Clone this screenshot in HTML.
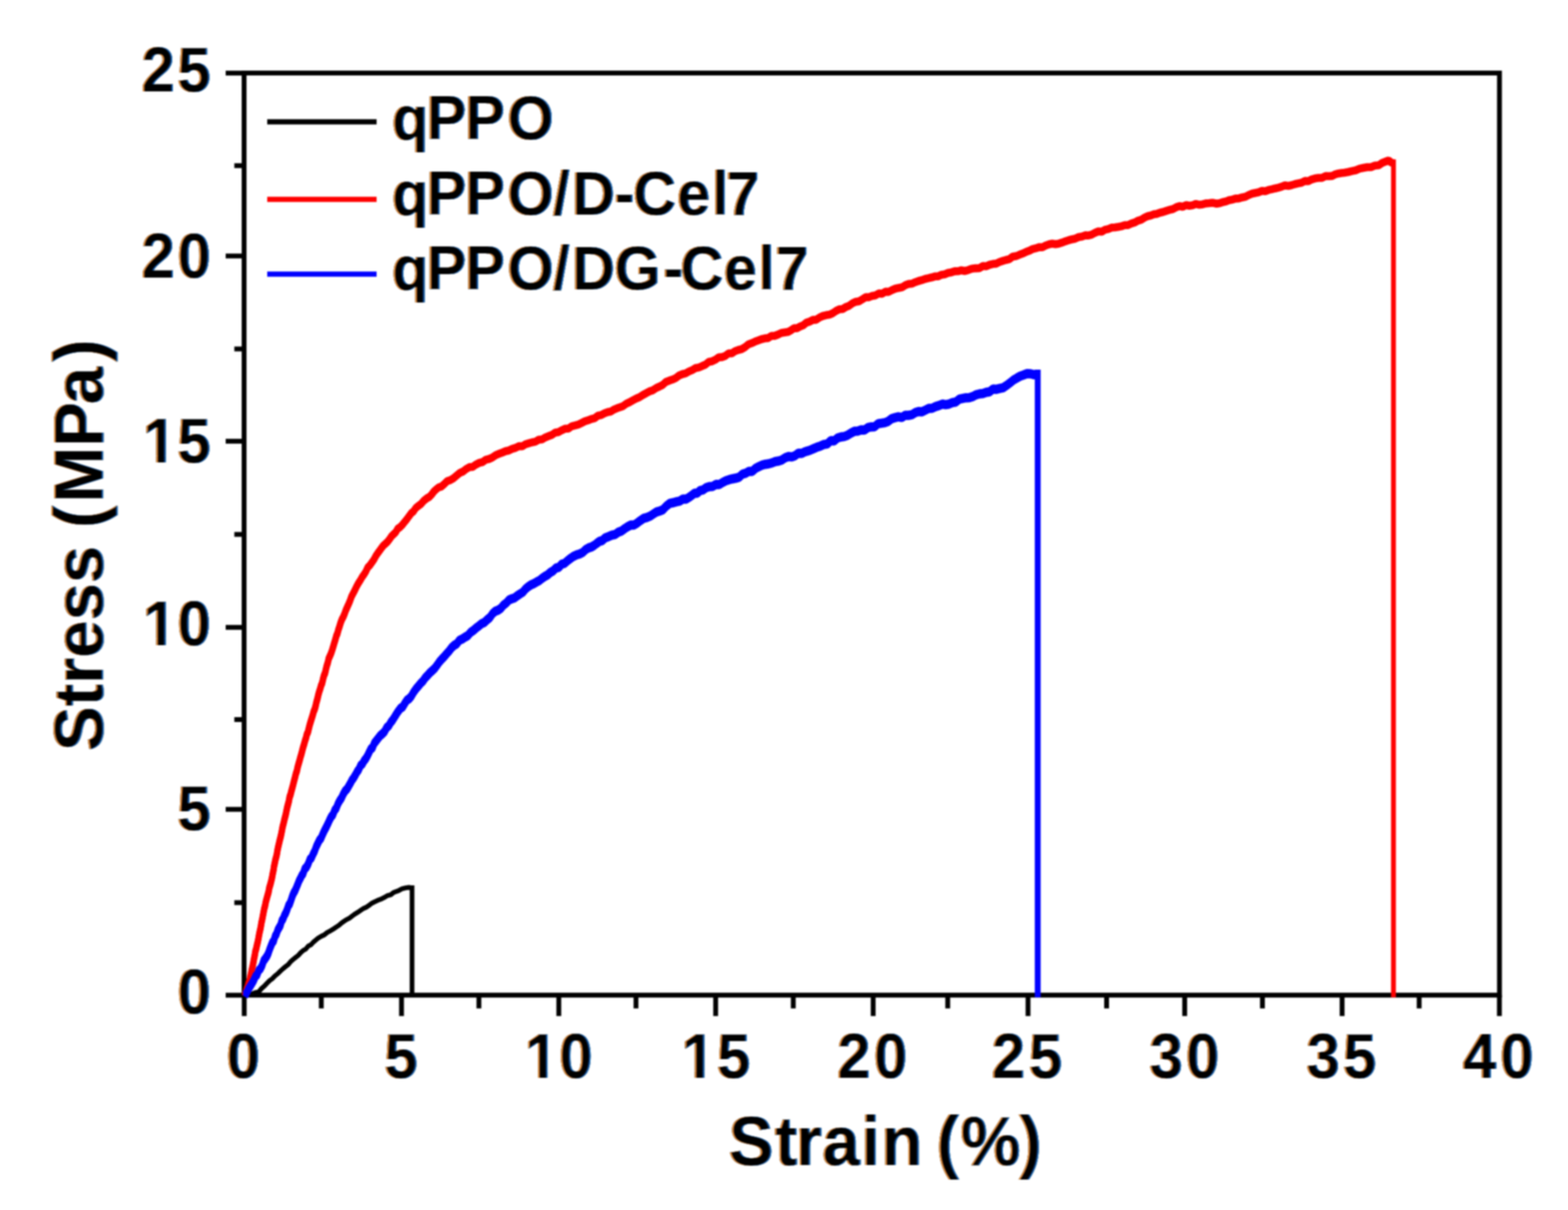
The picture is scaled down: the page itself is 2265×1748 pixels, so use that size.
<!DOCTYPE html>
<html lang="en">
<head>
<meta charset="utf-8">
<title>Stress-strain curves</title>
<style>
html,body{margin:0;padding:0;background:#fff;}
body{width:2265px;height:1748px;overflow:hidden;}
svg{display:block;position:absolute;left:0;top:0;filter:blur(1.2px);}
text{font-family:"Liberation Sans",Arial,Helvetica,sans-serif;font-weight:bold;fill:#000;}
.tick{font-size:86.5px;}
.title{font-size:97px;}
.leg{font-size:86px;}
.ax{stroke:#000;fill:none;}
.crv{fill:none;stroke-linejoin:miter;stroke-linecap:butt;}
</style>
</head>
<body>
<svg width="2265" height="1748" viewBox="0 0 2265 1748">
<rect x="0" y="0" width="2265" height="1748" fill="#ffffff"/>
<defs>
<filter id="ct" filterUnits="userSpaceOnUse" x="0" y="0" width="2265" height="1748" color-interpolation-filters="sRGB">
<feMorphology in="SourceAlpha" operator="dilate" radius="1 0" result="fat"/>
<feFlood flood-color="#000000" result="fK"/>
<feComposite in="fK" in2="fat" operator="in" result="base"/>
<feOffset in="fat" dx="3.0" dy="0" result="sR2"/>
<feComposite in="fat" in2="sR2" operator="out" result="eL2"/>
<feFlood flood-color="#6e2c06" result="fL2"/>
<feComposite in="fL2" in2="eL2" operator="in" result="cL2"/>
<feOffset in="fat" dx="-3.0" dy="0" result="sL2"/>
<feComposite in="fat" in2="sL2" operator="out" result="eR2"/>
<feFlood flood-color="#06306e" result="fR2"/>
<feComposite in="fR2" in2="eR2" operator="in" result="cR2"/>
<feOffset in="fat" dx="1.5" dy="0" result="sR1"/>
<feComposite in="fat" in2="sR1" operator="out" result="eL1"/>
<feFlood flood-color="#e29a4a" result="fL1"/>
<feComposite in="fL1" in2="eL1" operator="in" result="cL1"/>
<feOffset in="fat" dx="-1.5" dy="0" result="sL1"/>
<feComposite in="fat" in2="sL1" operator="out" result="eR1"/>
<feFlood flood-color="#4aa8ec" result="fR1"/>
<feComposite in="fR1" in2="eR1" operator="in" result="cR1"/>
<feMerge><feMergeNode in="base"/><feMergeNode in="cL2"/><feMergeNode in="cR2"/><feMergeNode in="cL1"/><feMergeNode in="cR1"/></feMerge>
</filter>
</defs>

<g class="ax" stroke-width="7">
<rect x="352.6" y="105.5" width="1813.4" height="1332.1"/>
</g>
<g class="ax" stroke-width="7">
<line x1="352.8" y1="1437.6" x2="352.8" y2="1467.8"/>
<line x1="464.1" y1="1437.6" x2="464.1" y2="1456.8"/>
<line x1="580.0" y1="1437.6" x2="580.0" y2="1467.8"/>
<line x1="691.8" y1="1437.6" x2="691.8" y2="1456.8"/>
<line x1="807.2" y1="1437.6" x2="807.2" y2="1467.8"/>
<line x1="918.7" y1="1437.6" x2="918.7" y2="1456.8"/>
<line x1="1033.8" y1="1437.6" x2="1033.8" y2="1467.8"/>
<line x1="1145.9" y1="1437.6" x2="1145.9" y2="1456.8"/>
<line x1="1261.3" y1="1437.6" x2="1261.3" y2="1467.8"/>
<line x1="1369.0" y1="1437.6" x2="1369.0" y2="1456.8"/>
<line x1="1485.0" y1="1437.6" x2="1485.0" y2="1467.8"/>
<line x1="1598.5" y1="1437.6" x2="1598.5" y2="1456.8"/>
<line x1="1711.3" y1="1437.6" x2="1711.3" y2="1467.8"/>
<line x1="1823.6" y1="1437.6" x2="1823.6" y2="1456.8"/>
<line x1="1938.7" y1="1437.6" x2="1938.7" y2="1467.8"/>
<line x1="2050.0" y1="1437.6" x2="2050.0" y2="1456.8"/>
<line x1="2165.9" y1="1437.6" x2="2165.9" y2="1467.8"/>
<line x1="352.6" y1="1437.7" x2="326.0" y2="1437.7"/>
<line x1="352.6" y1="1304.0" x2="338.5" y2="1304.0"/>
<line x1="352.6" y1="1169.2" x2="326.0" y2="1169.2"/>
<line x1="352.6" y1="1039.5" x2="338.5" y2="1039.5"/>
<line x1="352.6" y1="906.3" x2="326.0" y2="906.3"/>
<line x1="352.6" y1="772.0" x2="338.5" y2="772.0"/>
<line x1="352.6" y1="637.4" x2="326.0" y2="637.4"/>
<line x1="352.6" y1="504.1" x2="338.5" y2="504.1"/>
<line x1="352.6" y1="369.8" x2="326.0" y2="369.8"/>
<line x1="352.6" y1="239.3" x2="338.5" y2="239.3"/>
<line x1="352.6" y1="105.6" x2="326.0" y2="105.6"/>
</g>
<g class="crv">
<polyline points="360.0,1437.6 364.6,1435.7 369.2,1433.8 373.8,1432.8 377.8,1428.0 381.7,1424.7 385.7,1420.4 389.6,1416.5 393.5,1413.7 397.4,1409.6 401.2,1406.6 405.1,1402.7 409.0,1399.2 412.6,1396.3 416.3,1393.5 419.9,1389.1 423.6,1385.9 427.2,1383.0 430.9,1380.1 434.5,1376.2 438.1,1373.0 441.8,1370.9 445.4,1366.6 449.1,1364.8 452.7,1361.0 456.4,1357.9 460.0,1354.9 464.2,1352.5 468.5,1350.5 472.8,1347.0 477.0,1344.9 481.2,1342.3 485.5,1339.3 489.4,1336.8 493.4,1333.4 497.3,1330.7 501.2,1328.2 505.2,1326.1 509.1,1323.0 513.1,1320.2 517.0,1317.8 520.9,1315.2 524.8,1312.5 528.8,1310.8 532.7,1308.2 536.6,1305.1 540.5,1303.1 545.3,1300.8 550.0,1299.1 554.8,1296.7 559.5,1293.9 564.3,1292.7 568.3,1289.5 572.2,1287.9 576.2,1286.4 581.1,1283.8 586.0,1282.6 590.6,1282.0 595.2,1282.6" stroke="#000000" stroke-width="6.9" stroke-linejoin="bevel"/>
<line x1="595.2" y1="1279.1" x2="595.2" y2="1440.8" stroke="#000000" stroke-width="6.8"/>
<polyline points="353.5,1436.2 354.9,1432.5 356.4,1427.7 357.8,1424.1 359.3,1418.5 360.7,1415.1 361.7,1409.7 362.8,1404.6 363.8,1399.2 364.8,1395.0 365.8,1390.1 366.9,1383.9 367.9,1379.2 369.0,1372.6 370.1,1369.1 371.2,1363.9 372.3,1359.6 373.4,1354.1 374.5,1347.7 375.6,1342.8 376.6,1338.4 377.6,1331.8 378.6,1327.7 379.7,1321.9 380.7,1316.7 381.7,1311.4 382.7,1308.0 384.0,1301.4 385.3,1296.6 386.6,1291.8 387.8,1287.9 389.1,1280.9 390.4,1276.7 391.7,1271.8 392.9,1266.7 394.0,1260.6 395.0,1256.0 395.9,1249.9 396.9,1245.6 397.8,1240.8 398.8,1237.4 399.9,1232.8 401.0,1226.1 402.0,1221.4 403.1,1216.8 404.2,1212.1 405.3,1207.9 406.3,1203.4 407.4,1197.8 408.4,1192.4 409.5,1188.6 410.6,1183.7 411.7,1179.4 412.7,1175.6 413.8,1170.2 414.9,1165.0 416.1,1160.5 417.3,1155.9 418.4,1149.6 419.6,1146.9 420.8,1141.9 422.1,1137.3 423.4,1132.4 424.8,1126.7 426.1,1121.9 427.4,1116.4 428.7,1113.0 430.0,1106.8 431.3,1102.1 432.6,1097.7 433.9,1092.8 435.2,1088.5 436.6,1083.0 437.9,1078.1 439.3,1073.7 440.6,1068.8 442.0,1064.8 443.3,1059.3 444.7,1056.7 446.0,1051.4 447.4,1045.7 448.8,1041.1 450.2,1036.6 451.7,1031.9 453.1,1026.6 454.5,1023.5 455.8,1019.1 457.1,1013.1 458.5,1008.3 459.8,1002.6 461.1,997.8 462.5,993.7 463.9,988.7 465.4,985.3 466.8,978.9 468.2,973.9 469.5,971.3 470.8,965.5 472.2,959.9 473.5,956.1 474.8,950.1 476.5,946.5 478.1,942.8 479.8,937.8 481.4,932.6 483.1,926.8 484.5,922.3 485.9,917.1 487.4,913.8 488.8,908.4 490.2,904.3 492.0,898.4 493.9,893.4 495.7,890.1 497.6,885.7 499.4,880.6 501.5,875.9 503.6,871.2 505.6,866.4 507.7,860.5 509.8,856.5 512.5,851.4 515.1,845.8 517.8,841.0 520.5,836.9 523.2,832.1 525.9,828.4 528.5,824.2 531.2,818.3 534.2,815.3 537.2,811.2 540.1,807.0 543.1,801.4 545.8,797.5 548.5,793.9 551.1,790.2 553.8,786.7 556.8,784.1 559.8,781.2 562.7,777.5 565.7,773.1 568.7,770.2 571.7,767.3 574.6,762.3 577.6,760.4 580.9,757.1 584.2,753.0 587.4,749.1 590.7,744.5 594.0,740.0 597.2,737.5 600.5,732.6 603.8,729.8 608.2,726.7 612.5,721.7 616.9,718.2 620.2,716.5 623.5,713.0 626.7,708.7 630.0,705.6 633.8,702.6 637.7,701.4 641.5,698.1 646.0,693.6 650.4,692.2 654.9,689.6 659.3,685.8 663.8,682.0 668.6,679.9 673.3,676.3 678.1,673.4 682.8,673.1 687.6,669.7 692.4,667.2 697.1,666.1 701.9,662.7 706.6,661.6 711.4,659.4 716.2,656.0 720.9,654.2 725.7,652.4 730.4,650.4 735.2,649.3 740.0,646.9 744.7,645.6 749.5,643.2 754.2,643.4 759.0,640.4 763.8,639.0 768.6,637.6 773.3,636.7 778.1,633.9 782.9,633.4 787.7,630.5 792.4,628.7 797.2,626.8 801.9,623.6 806.7,622.8 811.5,620.2 816.2,617.9 821.0,617.9 825.7,614.5 830.5,613.3 835.3,612.0 840.0,609.7 844.8,607.2 849.5,605.8 854.3,603.9 859.1,602.6 863.8,599.1 868.6,598.2 873.3,595.6 878.1,593.8 882.5,593.0 886.9,590.3 891.2,588.4 895.6,586.9 900.0,585.3 904.8,581.7 909.5,579.6 914.3,576.9 919.0,574.4 923.8,572.4 928.6,569.2 933.3,566.7 938.1,564.0 942.8,562.5 947.6,559.3 952.4,557.1 957.1,554.7 961.9,550.4 966.6,548.5 971.4,546.9 976.2,544.7 980.9,541.1 985.7,539.1 990.4,538.0 995.2,535.2 1000.0,533.2 1004.7,530.4 1009.5,529.5 1014.2,527.4 1019.0,525.3 1023.8,521.3 1028.6,520.5 1033.3,518.3 1038.1,514.9 1042.9,514.5 1047.7,512.8 1052.4,509.1 1057.2,509.0 1061.9,505.8 1066.7,504.1 1071.5,502.9 1076.2,500.1 1081.0,496.1 1085.7,494.4 1090.5,492.2 1095.3,490.4 1100.0,488.6 1104.8,487.4 1109.5,487.0 1114.3,483.8 1119.1,483.7 1123.8,482.0 1128.6,479.6 1133.3,478.9 1138.1,478.2 1142.5,475.9 1146.9,472.7 1151.2,472.9 1155.6,470.4 1160.0,468.7 1164.8,464.7 1169.5,463.2 1174.3,460.7 1179.0,460.5 1183.8,457.3 1188.6,455.1 1193.3,453.9 1198.1,453.2 1202.8,451.1 1207.6,447.8 1212.4,445.4 1217.1,445.1 1221.9,442.1 1226.6,440.3 1231.4,436.7 1236.2,434.5 1240.9,433.8 1245.7,431.0 1250.4,428.0 1255.2,428.0 1260.0,426.0 1264.7,425.3 1269.5,422.4 1274.2,423.0 1279.0,420.0 1283.8,420.2 1288.6,417.6 1293.3,415.6 1298.1,414.5 1302.9,413.7 1307.7,410.7 1312.4,408.9 1317.2,408.4 1321.9,406.3 1326.7,404.6 1331.5,403.3 1336.2,401.6 1341.0,400.5 1345.7,399.4 1350.5,397.9 1355.3,397.8 1360.0,395.5 1364.8,394.8 1369.5,392.8 1374.3,392.0 1379.1,390.5 1383.8,390.4 1388.6,389.1 1393.3,390.1 1398.1,388.9 1403.6,386.8 1409.0,386.2 1414.5,386.1 1420.0,382.9 1424.8,383.3 1429.5,381.1 1434.3,379.9 1439.0,379.5 1443.8,377.1 1448.6,375.5 1453.3,374.1 1458.1,372.9 1462.8,369.4 1467.6,368.7 1472.4,366.7 1477.1,364.9 1481.9,362.7 1486.6,360.9 1491.4,358.5 1496.2,357.3 1500.9,355.7 1505.7,355.9 1510.4,353.3 1515.2,351.6 1520.0,350.5 1524.7,351.3 1529.5,350.5 1534.2,349.0 1539.0,347.2 1543.8,345.6 1548.6,344.3 1553.3,343.3 1558.1,341.1 1562.9,340.4 1567.7,338.5 1572.4,338.8 1577.2,337.4 1581.9,334.9 1586.7,332.8 1591.5,333.3 1596.2,330.5 1601.0,329.5 1605.7,327.4 1610.5,327.1 1615.3,326.4 1620.0,325.5 1624.8,323.9 1629.5,323.7 1634.3,321.5 1639.1,320.0 1643.8,317.4 1648.6,316.0 1653.3,313.0 1658.1,310.8 1662.5,309.9 1666.9,308.2 1671.2,307.5 1675.6,305.9 1680.0,304.9 1684.8,303.2 1689.5,301.8 1694.3,300.6 1699.0,298.0 1703.8,296.3 1708.6,297.4 1713.3,294.9 1718.1,295.8 1722.8,295.1 1727.6,293.2 1732.4,294.4 1737.1,293.8 1741.9,292.5 1746.6,292.1 1751.4,291.5 1757.4,292.9 1761.9,292.2 1766.3,290.5 1770.8,289.7 1775.2,287.9 1780.0,287.0 1784.7,285.5 1789.5,285.3 1794.2,283.8 1799.0,282.9 1803.8,280.3 1808.6,278.4 1813.3,277.3 1818.1,276.4 1822.9,274.4 1827.7,274.9 1832.4,273.0 1837.2,272.0 1841.9,270.8 1846.7,269.7 1851.5,268.3 1856.2,266.2 1861.0,267.2 1865.7,266.1 1870.5,264.6 1875.3,263.5 1880.0,262.6 1884.8,260.0 1889.5,260.4 1894.3,258.0 1899.4,256.4 1904.6,255.6 1909.7,255.5 1914.9,253.0 1920.0,253.1 1924.4,252.7 1928.8,250.5 1933.2,249.3 1937.6,248.5 1942.0,248.0 1947.5,247.1 1953.0,245.7 1958.5,244.6 1964.0,242.2 1969.5,241.1 1974.9,240.1 1980.4,240.0 1985.9,237.8 1991.4,237.4 1996.9,233.8 2002.4,231.7 2006.0,230.4 2009.5,233.2 2012.9,234.6" stroke="#ff0000" stroke-width="8.8" stroke-linejoin="bevel"/>
<polyline points="353.5,1437.6 354.9,1433.9 356.4,1429.1 357.8,1425.5 359.3,1419.9 360.7,1416.5 361.7,1411.1 362.8,1406.0 363.8,1400.6 364.8,1396.4 365.8,1391.5 366.9,1385.3 367.9,1380.6 369.0,1374.0 370.1,1370.5 371.2,1365.3 372.3,1361.0 373.4,1355.5 374.5,1349.1 375.6,1344.2 376.6,1339.8 377.6,1333.2 378.6,1329.1 379.7,1323.3 380.7,1318.1 381.7,1312.8 382.7,1309.4 384.0,1302.8 385.3,1298.0 386.6,1293.2 387.8,1289.3 389.1,1282.3 390.4,1278.1 391.7,1273.2 392.9,1268.1 394.0,1262.0 395.0,1257.4 395.9,1251.3 396.9,1247.0 397.8,1242.2 398.8,1238.8 399.9,1234.2 401.0,1227.5 402.0,1222.8 403.1,1218.2 404.2,1213.5 405.3,1209.3 406.3,1204.8 407.4,1199.2 408.4,1193.8 409.5,1190.0 410.6,1185.1 411.7,1180.8 412.7,1177.0 413.8,1171.6 414.9,1166.4 416.1,1161.9 417.3,1157.3 418.4,1151.0 419.6,1148.3 420.8,1143.3 422.1,1138.7 423.4,1133.8 424.8,1128.1 426.1,1123.3 427.4,1117.8 428.7,1114.4 430.0,1108.2 431.3,1103.5 432.6,1099.1 433.9,1094.2 435.2,1089.9 436.6,1084.4 437.9,1079.5 439.3,1075.1 440.6,1070.2 442.0,1066.2 443.3,1060.7 444.7,1058.1 446.0,1052.8 447.4,1047.1 448.8,1042.5 450.2,1038.0 451.7,1033.3 453.1,1028.0 454.5,1024.9 455.8,1020.5 457.1,1014.5 458.5,1009.7 459.8,1004.0 461.1,999.2 462.5,995.1 463.9,990.1 465.4,986.7 466.8,980.3 468.2,975.3 469.5,972.7 470.8,966.9 472.2,961.3 473.5,957.5 474.8,951.5 476.5,947.9 478.1,944.2 479.8,939.2 481.4,934.0 483.1,928.2 484.5,923.7 485.9,918.5 487.4,915.2 488.8,909.8 490.2,905.7 492.0,899.8 493.9,894.8 495.7,891.5 497.6,887.1 499.4,882.0 501.5,877.3 503.6,872.6 505.6,867.8 507.7,861.9 509.8,857.9 512.5,852.8 515.1,847.2 517.8,842.4 520.5,838.3 523.2,833.5 525.9,829.8 528.5,825.6 531.2,819.7 534.2,816.7 537.2,812.6 540.1,808.4 543.1,802.8 545.8,798.9 548.5,795.3 551.1,791.6 553.8,788.1 556.8,785.5 559.8,782.6 562.7,778.9 565.7,774.5 568.7,771.6 571.7,768.7 574.6,763.7 577.6,761.8 580.9,758.5 584.2,754.4 587.4,750.5 590.7,745.9 594.0,741.4 597.2,738.9 600.5,734.0 603.8,731.2 608.2,728.1 612.5,723.1 616.9,719.6 620.2,717.9 623.5,714.4 626.7,710.1 630.0,707.0 633.8,704.0 637.7,702.8 641.5,699.5 646.0,695.0 650.4,693.6 654.9,691.0 659.3,687.2 663.8,683.4 668.6,681.3 673.3,677.7 678.1,674.8 682.8,674.5 687.6,671.1 692.4,668.6 697.1,667.5 701.9,664.1 706.6,663.0 711.4,660.8 716.2,657.4 720.9,655.6 725.7,653.8 730.4,651.8 735.2,650.7 740.0,648.3 744.7,647.0 749.5,644.6 754.2,644.8 759.0,641.8 763.8,640.4 768.6,639.0 773.3,638.1 778.1,635.3 782.9,634.8 787.7,631.9 792.4,630.1 797.2,628.2 801.9,625.0 806.7,624.2 811.5,621.6 816.2,619.3 821.0,619.3 825.7,615.9 830.5,614.7 835.3,613.4 840.0,611.1 844.8,608.6 849.5,607.2 854.3,605.3 859.1,604.0 863.8,600.5 868.6,599.6 873.3,597.0 878.1,595.2 882.5,594.4 886.9,591.7 891.2,589.8 895.6,588.3 900.0,586.7 904.8,583.1 909.5,581.0 914.3,578.3 919.0,575.8 923.8,573.8 928.6,570.6 933.3,568.1 938.1,565.4 942.8,563.9 947.6,560.7 952.4,558.5 957.1,556.1 961.9,551.8 966.6,549.9 971.4,548.3 976.2,546.1 980.9,542.5 985.7,540.5 990.4,539.4 995.2,536.6 1000.0,534.6 1004.7,531.8 1009.5,530.9 1014.2,528.8 1019.0,526.7 1023.8,522.7 1028.6,521.9 1033.3,519.7 1038.1,516.3 1042.9,515.9 1047.7,514.2 1052.4,510.5 1057.2,510.4 1061.9,507.2 1066.7,505.5 1071.5,504.3 1076.2,501.5 1081.0,497.5 1085.7,495.8 1090.5,493.6 1095.3,491.8 1100.0,490.0 1104.8,488.8 1109.5,488.4 1114.3,485.2 1119.1,485.1 1123.8,483.4 1128.6,481.0 1133.3,480.3 1138.1,479.6 1142.5,477.3 1146.9,474.1 1151.2,474.3 1155.6,471.8 1160.0,470.1 1164.8,466.1 1169.5,464.6 1174.3,462.1 1179.0,461.9 1183.8,458.7 1188.6,456.5 1193.3,455.3 1198.1,454.6 1202.8,452.5 1207.6,449.2 1212.4,446.8 1217.1,446.5 1221.9,443.5 1226.6,441.7 1231.4,438.1 1236.2,435.9 1240.9,435.2 1245.7,432.4 1250.4,429.4 1255.2,429.4 1260.0,427.4 1264.7,426.7 1269.5,423.8 1274.2,424.4 1279.0,421.4 1283.8,421.6 1288.6,419.0 1293.3,417.0 1298.1,415.9 1302.9,415.1 1307.7,412.1 1312.4,410.3 1317.2,409.8 1321.9,407.7 1326.7,406.0 1331.5,404.7 1336.2,403.0 1341.0,401.9 1345.7,400.8 1350.5,399.3 1355.3,399.2 1360.0,396.9 1364.8,396.2 1369.5,394.2 1374.3,393.4 1379.1,391.9 1383.8,391.8 1388.6,390.5 1393.3,391.5 1398.1,390.3 1403.6,388.2 1409.0,387.6 1414.5,387.5 1420.0,384.3 1424.8,384.7 1429.5,382.5 1434.3,381.3 1439.0,380.9 1443.8,378.5 1448.6,376.9 1453.3,375.5 1458.1,374.3 1462.8,370.8 1467.6,370.1 1472.4,368.1 1477.1,366.3 1481.9,364.1 1486.6,362.3 1491.4,359.9 1496.2,358.7 1500.9,357.1 1505.7,357.3 1510.4,354.7 1515.2,353.0 1520.0,351.9 1524.7,352.7 1529.5,351.9 1534.2,350.4 1539.0,348.6 1543.8,347.0 1548.6,345.7 1553.3,344.7 1558.1,342.5 1562.9,341.8 1567.7,339.9 1572.4,340.2 1577.2,338.8 1581.9,336.3 1586.7,334.2 1591.5,334.7 1596.2,331.9 1601.0,330.9 1605.7,328.8 1610.5,328.5 1615.3,327.8 1620.0,326.9 1624.8,325.3 1629.5,325.1 1634.3,322.9 1639.1,321.4 1643.8,318.8 1648.6,317.4 1653.3,314.4 1658.1,312.2 1662.5,311.3 1666.9,309.6 1671.2,308.9 1675.6,307.3 1680.0,306.3 1684.8,304.6 1689.5,303.2 1694.3,302.0 1699.0,299.4 1703.8,297.7 1708.6,298.8 1713.3,296.3 1718.1,297.2 1722.8,296.5 1727.6,294.6 1732.4,295.8 1737.1,295.2 1741.9,293.9 1746.6,293.5 1751.4,292.9 1757.4,294.3 1761.9,293.6 1766.3,291.9 1770.8,291.1 1775.2,289.3 1780.0,288.4 1784.7,286.9 1789.5,286.7 1794.2,285.2 1799.0,284.3 1803.8,281.7 1808.6,279.8 1813.3,278.7 1818.1,277.8 1822.9,275.8 1827.7,276.3 1832.4,274.4 1837.2,273.4 1841.9,272.2 1846.7,271.1 1851.5,269.7 1856.2,267.6 1861.0,268.6 1865.7,267.5 1870.5,266.0 1875.3,264.9 1880.0,264.0 1884.8,261.4 1889.5,261.8 1894.3,259.4 1899.4,257.8 1904.6,257.0 1909.7,256.9 1914.9,254.4 1920.0,254.5 1924.4,254.1 1928.8,251.9 1933.2,250.7 1937.6,249.9 1942.0,249.4 1947.5,248.5 1953.0,247.1 1958.5,246.0 1964.0,243.6 1969.5,242.5 1974.9,241.5 1980.4,241.4 1985.9,239.2 1991.4,238.8 1996.9,235.2 2002.4,233.1 2006.0,231.8 2009.5,234.6 2012.9,236.0" stroke="#ff0000" stroke-width="8.8" stroke-linejoin="bevel"/>
<polyline points="353.5,1439.0 354.9,1435.3 356.4,1430.5 357.8,1426.9 359.3,1421.3 360.7,1417.9 361.7,1412.5 362.8,1407.4 363.8,1402.0 364.8,1397.8 365.8,1392.9 366.9,1386.7 367.9,1382.0 369.0,1375.4 370.1,1371.9 371.2,1366.7 372.3,1362.4 373.4,1356.9 374.5,1350.5 375.6,1345.6 376.6,1341.2 377.6,1334.6 378.6,1330.5 379.7,1324.7 380.7,1319.5 381.7,1314.2 382.7,1310.8 384.0,1304.2 385.3,1299.4 386.6,1294.6 387.8,1290.7 389.1,1283.7 390.4,1279.5 391.7,1274.6 392.9,1269.5 394.0,1263.4 395.0,1258.8 395.9,1252.7 396.9,1248.4 397.8,1243.6 398.8,1240.2 399.9,1235.6 401.0,1228.9 402.0,1224.2 403.1,1219.6 404.2,1214.9 405.3,1210.7 406.3,1206.2 407.4,1200.6 408.4,1195.2 409.5,1191.4 410.6,1186.5 411.7,1182.2 412.7,1178.4 413.8,1173.0 414.9,1167.8 416.1,1163.3 417.3,1158.7 418.4,1152.4 419.6,1149.7 420.8,1144.7 422.1,1140.1 423.4,1135.2 424.8,1129.5 426.1,1124.7 427.4,1119.2 428.7,1115.8 430.0,1109.6 431.3,1104.9 432.6,1100.5 433.9,1095.6 435.2,1091.3 436.6,1085.8 437.9,1080.9 439.3,1076.5 440.6,1071.6 442.0,1067.6 443.3,1062.1 444.7,1059.5 446.0,1054.2 447.4,1048.5 448.8,1043.9 450.2,1039.4 451.7,1034.7 453.1,1029.4 454.5,1026.3 455.8,1021.9 457.1,1015.9 458.5,1011.1 459.8,1005.4 461.1,1000.6 462.5,996.5 463.9,991.5 465.4,988.1 466.8,981.7 468.2,976.7 469.5,974.1 470.8,968.3 472.2,962.7 473.5,958.9 474.8,952.9 476.5,949.3 478.1,945.6 479.8,940.6 481.4,935.4 483.1,929.6 484.5,925.1 485.9,919.9 487.4,916.6 488.8,911.2 490.2,907.1 492.0,901.2 493.9,896.2 495.7,892.9 497.6,888.5 499.4,883.4 501.5,878.7 503.6,874.0 505.6,869.2 507.7,863.3 509.8,859.3 512.5,854.2 515.1,848.6 517.8,843.8 520.5,839.7 523.2,834.9 525.9,831.2 528.5,827.0 531.2,821.1 534.2,818.1 537.2,814.0 540.1,809.8 543.1,804.2 545.8,800.3 548.5,796.7 551.1,793.0 553.8,789.5 556.8,786.9 559.8,784.0 562.7,780.3 565.7,775.9 568.7,773.0 571.7,770.1 574.6,765.1 577.6,763.2 580.9,759.9 584.2,755.8 587.4,751.9 590.7,747.3 594.0,742.8 597.2,740.3 600.5,735.4 603.8,732.6 608.2,729.5 612.5,724.5 616.9,721.0 620.2,719.3 623.5,715.8 626.7,711.5 630.0,708.4 633.8,705.4 637.7,704.2 641.5,700.9 646.0,696.4 650.4,695.0 654.9,692.4 659.3,688.6 663.8,684.8 668.6,682.7 673.3,679.1 678.1,676.2 682.8,675.9 687.6,672.5 692.4,670.0 697.1,668.9 701.9,665.5 706.6,664.4 711.4,662.2 716.2,658.8 720.9,657.0 725.7,655.2 730.4,653.2 735.2,652.1 740.0,649.7 744.7,648.4 749.5,646.0 754.2,646.2 759.0,643.2 763.8,641.8 768.6,640.4 773.3,639.5 778.1,636.7 782.9,636.2 787.7,633.3 792.4,631.5 797.2,629.6 801.9,626.4 806.7,625.6 811.5,623.0 816.2,620.7 821.0,620.7 825.7,617.3 830.5,616.1 835.3,614.8 840.0,612.5 844.8,610.0 849.5,608.6 854.3,606.7 859.1,605.4 863.8,601.9 868.6,601.0 873.3,598.4 878.1,596.6 882.5,595.8 886.9,593.1 891.2,591.2 895.6,589.7 900.0,588.1 904.8,584.5 909.5,582.4 914.3,579.7 919.0,577.2 923.8,575.2 928.6,572.0 933.3,569.5 938.1,566.8 942.8,565.3 947.6,562.1 952.4,559.9 957.1,557.5 961.9,553.2 966.6,551.3 971.4,549.7 976.2,547.5 980.9,543.9 985.7,541.9 990.4,540.8 995.2,538.0 1000.0,536.0 1004.7,533.2 1009.5,532.3 1014.2,530.2 1019.0,528.1 1023.8,524.1 1028.6,523.3 1033.3,521.1 1038.1,517.7 1042.9,517.3 1047.7,515.6 1052.4,511.9 1057.2,511.8 1061.9,508.6 1066.7,506.9 1071.5,505.7 1076.2,502.9 1081.0,498.9 1085.7,497.2 1090.5,495.0 1095.3,493.2 1100.0,491.4 1104.8,490.2 1109.5,489.8 1114.3,486.6 1119.1,486.5 1123.8,484.8 1128.6,482.4 1133.3,481.7 1138.1,481.0 1142.5,478.7 1146.9,475.5 1151.2,475.7 1155.6,473.2 1160.0,471.5 1164.8,467.5 1169.5,466.0 1174.3,463.5 1179.0,463.3 1183.8,460.1 1188.6,457.9 1193.3,456.7 1198.1,456.0 1202.8,453.9 1207.6,450.6 1212.4,448.2 1217.1,447.9 1221.9,444.9 1226.6,443.1 1231.4,439.5 1236.2,437.3 1240.9,436.6 1245.7,433.8 1250.4,430.8 1255.2,430.8 1260.0,428.8 1264.7,428.1 1269.5,425.2 1274.2,425.8 1279.0,422.8 1283.8,423.0 1288.6,420.4 1293.3,418.4 1298.1,417.3 1302.9,416.5 1307.7,413.5 1312.4,411.7 1317.2,411.2 1321.9,409.1 1326.7,407.4 1331.5,406.1 1336.2,404.4 1341.0,403.3 1345.7,402.2 1350.5,400.7 1355.3,400.6 1360.0,398.3 1364.8,397.6 1369.5,395.6 1374.3,394.8 1379.1,393.3 1383.8,393.2 1388.6,391.9 1393.3,392.9 1398.1,391.7 1403.6,389.6 1409.0,389.0 1414.5,388.9 1420.0,385.7 1424.8,386.1 1429.5,383.9 1434.3,382.7 1439.0,382.3 1443.8,379.9 1448.6,378.3 1453.3,376.9 1458.1,375.7 1462.8,372.2 1467.6,371.5 1472.4,369.5 1477.1,367.7 1481.9,365.5 1486.6,363.7 1491.4,361.3 1496.2,360.1 1500.9,358.5 1505.7,358.7 1510.4,356.1 1515.2,354.4 1520.0,353.3 1524.7,354.1 1529.5,353.3 1534.2,351.8 1539.0,350.0 1543.8,348.4 1548.6,347.1 1553.3,346.1 1558.1,343.9 1562.9,343.2 1567.7,341.3 1572.4,341.6 1577.2,340.2 1581.9,337.7 1586.7,335.6 1591.5,336.1 1596.2,333.3 1601.0,332.3 1605.7,330.2 1610.5,329.9 1615.3,329.2 1620.0,328.3 1624.8,326.7 1629.5,326.5 1634.3,324.3 1639.1,322.8 1643.8,320.2 1648.6,318.8 1653.3,315.8 1658.1,313.6 1662.5,312.7 1666.9,311.0 1671.2,310.3 1675.6,308.7 1680.0,307.7 1684.8,306.0 1689.5,304.6 1694.3,303.4 1699.0,300.8 1703.8,299.1 1708.6,300.2 1713.3,297.7 1718.1,298.6 1722.8,297.9 1727.6,296.0 1732.4,297.2 1737.1,296.6 1741.9,295.3 1746.6,294.9 1751.4,294.3 1757.4,295.7 1761.9,295.0 1766.3,293.3 1770.8,292.5 1775.2,290.7 1780.0,289.8 1784.7,288.3 1789.5,288.1 1794.2,286.6 1799.0,285.7 1803.8,283.1 1808.6,281.2 1813.3,280.1 1818.1,279.2 1822.9,277.2 1827.7,277.7 1832.4,275.8 1837.2,274.8 1841.9,273.6 1846.7,272.5 1851.5,271.1 1856.2,269.0 1861.0,270.0 1865.7,268.9 1870.5,267.4 1875.3,266.3 1880.0,265.4 1884.8,262.8 1889.5,263.2 1894.3,260.8 1899.4,259.2 1904.6,258.4 1909.7,258.3 1914.9,255.8 1920.0,255.9 1924.4,255.5 1928.8,253.3 1933.2,252.1 1937.6,251.3 1942.0,250.8 1947.5,249.9 1953.0,248.5 1958.5,247.4 1964.0,245.0 1969.5,243.9 1974.9,242.9 1980.4,242.8 1985.9,240.6 1991.4,240.2 1996.9,236.6 2002.4,234.5 2006.0,233.2 2009.5,236.0 2012.9,237.4" stroke="#ff0000" stroke-width="8.8" stroke-linejoin="bevel"/>
<line x1="2012.9" y1="230.2" x2="2012.9" y2="1440.8" stroke="#ff0000" stroke-width="7.0"/>
<polyline points="354.0,1435.1 356.5,1431.3 359.1,1425.9 361.6,1422.2 364.2,1417.8 366.7,1413.5 369.1,1408.1 371.4,1405.8 373.8,1399.3 376.2,1397.0 378.6,1392.4 380.9,1385.4 383.3,1382.2 385.7,1378.7 387.6,1374.6 389.6,1368.7 391.5,1363.8 393.4,1359.1 395.4,1356.7 397.3,1350.2 399.3,1346.8 401.2,1341.1 403.1,1337.7 405.1,1334.4 407.0,1327.7 408.9,1325.1 410.9,1319.8 412.8,1316.4 414.8,1311.4 416.7,1305.6 418.6,1303.1 420.6,1297.4 422.5,1291.7 424.4,1287.2 426.3,1284.1 428.2,1279.5 430.2,1274.6 432.1,1269.7 434.0,1266.3 435.9,1262.3 437.8,1259.8 440.2,1252.7 442.7,1250.2 445.1,1245.8 447.6,1239.1 450.0,1236.7 452.3,1231.3 454.5,1227.1 456.8,1220.6 459.0,1216.1 461.3,1211.4 463.8,1208.3 466.3,1202.4 468.8,1197.0 471.3,1192.4 473.8,1187.2 476.2,1181.8 478.6,1177.2 480.9,1174.5 483.3,1168.2 485.7,1165.2 488.3,1158.5 490.9,1153.8 493.6,1149.8 496.2,1144.1 498.8,1139.8 501.2,1137.5 503.6,1133.3 506.0,1129.2 508.3,1124.7 510.7,1121.5 513.1,1117.6 515.7,1112.6 518.3,1109.1 520.9,1103.2 523.4,1101.2 526.0,1096.4 528.6,1093.3 531.0,1089.0 533.3,1084.1 535.7,1079.4 538.0,1077.9 540.4,1071.7 542.7,1068.7 545.9,1064.5 549.0,1060.5 552.2,1057.8 555.4,1054.6 558.5,1048.7 561.7,1045.9 564.5,1041.0 567.2,1037.7 570.0,1033.3 572.8,1028.7 575.5,1024.7 578.3,1020.9 581.5,1018.9 584.7,1013.7 587.8,1009.0 591.0,1006.9 594.2,1003.2 597.4,997.7 600.8,992.8 604.1,989.0 607.5,984.8 610.9,981.5 614.2,976.8 617.6,973.3 621.0,969.4 624.4,966.3 627.8,963.2 631.1,958.8 634.5,953.9 637.9,950.0 641.5,946.3 645.1,942.0 648.8,937.9 652.4,933.2 656.0,929.8 659.6,927.8 663.6,922.5 667.7,920.6 671.7,918.0 675.7,915.7 679.8,911.0 683.8,908.2 687.8,904.7 691.7,901.8 695.7,898.5 699.7,896.6 703.6,892.9 707.6,889.6 711.6,883.9 715.5,880.5 719.5,879.0 723.5,876.2 727.4,871.6 731.4,868.5 735.4,864.1 739.3,862.5 743.3,861.2 747.3,858.1 751.2,855.5 755.2,853.0 759.2,848.2 763.1,845.0 767.1,842.4 771.1,840.6 775.0,838.3 779.0,836.2 783.0,833.0 787.0,830.2 791.0,828.0 794.9,824.5 798.9,822.2 802.9,818.2 807.2,817.1 811.5,812.5 815.7,811.2 820.0,807.3 824.4,804.0 828.7,801.1 833.1,799.0 837.4,797.7 841.8,795.5 846.1,791.4 850.5,788.9 854.3,787.7 858.1,785.5 862.0,782.5 865.8,779.6 870.0,778.4 874.3,774.4 879.1,772.7 883.8,770.7 888.6,769.6 893.3,766.2 898.1,764.4 902.6,761.0 907.1,758.1 911.6,755.9 915.8,756.0 920.0,753.4 924.8,749.7 929.5,746.4 934.3,745.2 939.0,743.2 943.8,740.0 948.3,737.1 952.9,735.7 957.4,734.0 962.5,728.6 967.6,724.6 972.4,723.8 977.1,722.4 981.9,721.4 986.6,718.4 991.4,718.4 995.3,716.0 999.3,713.1 1003.2,710.0 1007.2,710.0 1011.2,706.1 1015.2,705.4 1020.0,702.1 1024.7,700.4 1029.5,700.2 1034.2,697.3 1039.0,697.5 1043.8,694.5 1048.6,692.0 1053.3,690.4 1058.1,689.2 1062.9,688.3 1067.7,686.9 1072.4,682.5 1077.2,681.1 1081.9,678.4 1086.7,678.4 1091.5,674.0 1096.2,671.6 1101.0,669.4 1105.7,668.2 1110.5,667.5 1115.3,666.1 1120.0,664.2 1124.8,663.5 1129.5,661.9 1134.3,658.8 1139.1,657.0 1143.8,657.6 1148.6,655.7 1153.3,652.2 1158.1,652.6 1162.5,650.3 1166.9,648.9 1171.2,647.4 1175.6,645.5 1180.0,643.6 1185.0,641.9 1190.0,639.6 1195.0,638.9 1200.0,634.0 1204.9,634.4 1209.8,630.3 1214.7,628.8 1219.5,628.1 1224.4,626.2 1229.3,623.1 1234.2,620.6 1239.1,620.3 1243.9,618.6 1248.8,618.7 1253.7,615.2 1258.6,614.2 1263.5,613.9 1268.4,609.6 1273.2,608.9 1278.1,608.1 1283.0,606.2 1287.9,602.3 1292.8,600.9 1297.7,599.7 1302.6,600.7 1307.4,597.5 1312.3,597.5 1317.2,596.6 1322.1,593.6 1327.0,591.9 1331.8,592.4 1336.7,590.0 1341.6,587.5 1346.5,587.3 1351.4,584.9 1356.3,583.4 1361.2,581.3 1366.0,582.1 1370.9,581.2 1375.8,579.1 1380.7,578.3 1385.6,574.2 1390.4,573.2 1395.3,572.2 1400.2,572.0 1405.1,570.4 1410.0,567.8 1414.9,566.5 1419.8,566.0 1424.7,564.2 1429.5,563.5 1434.4,559.4 1439.3,559.9 1444.2,558.6 1449.1,557.6 1454.0,554.3 1458.8,550.7 1463.7,546.7 1468.6,543.8 1473.5,541.0 1478.4,539.3 1483.6,537.2 1488.7,537.5 1493.8,538.9 1499.0,538.1" stroke="#0000ff" stroke-width="8.5" stroke-linejoin="bevel"/>
<polyline points="354.0,1437.6 356.5,1433.8 359.1,1428.4 361.6,1424.7 364.2,1420.3 366.7,1416.0 369.1,1410.6 371.4,1408.3 373.8,1401.8 376.2,1399.5 378.6,1394.9 380.9,1387.9 383.3,1384.7 385.7,1381.2 387.6,1377.1 389.6,1371.2 391.5,1366.3 393.4,1361.6 395.4,1359.2 397.3,1352.7 399.3,1349.3 401.2,1343.6 403.1,1340.2 405.1,1336.9 407.0,1330.2 408.9,1327.6 410.9,1322.3 412.8,1318.9 414.8,1313.9 416.7,1308.1 418.6,1305.6 420.6,1299.9 422.5,1294.2 424.4,1289.7 426.3,1286.6 428.2,1282.0 430.2,1277.1 432.1,1272.2 434.0,1268.8 435.9,1264.8 437.8,1262.3 440.2,1255.2 442.7,1252.7 445.1,1248.3 447.6,1241.6 450.0,1239.2 452.3,1233.8 454.5,1229.6 456.8,1223.1 459.0,1218.6 461.3,1213.9 463.8,1210.8 466.3,1204.9 468.8,1199.5 471.3,1194.9 473.8,1189.7 476.2,1184.3 478.6,1179.7 480.9,1177.0 483.3,1170.7 485.7,1167.7 488.3,1161.0 490.9,1156.3 493.6,1152.3 496.2,1146.6 498.8,1142.3 501.2,1140.0 503.6,1135.8 506.0,1131.7 508.3,1127.2 510.7,1124.0 513.1,1120.1 515.7,1115.1 518.3,1111.6 520.9,1105.7 523.4,1103.7 526.0,1098.9 528.6,1095.8 531.0,1091.5 533.3,1086.6 535.7,1081.9 538.0,1080.4 540.4,1074.2 542.7,1071.2 545.9,1067.0 549.0,1063.0 552.2,1060.3 555.4,1057.1 558.5,1051.2 561.7,1048.4 564.5,1043.5 567.2,1040.2 570.0,1035.8 572.8,1031.2 575.5,1027.2 578.3,1023.4 581.5,1021.4 584.7,1016.2 587.8,1011.5 591.0,1009.4 594.2,1005.7 597.4,1000.2 600.8,995.3 604.1,991.5 607.5,987.3 610.9,984.0 614.2,979.3 617.6,975.8 621.0,971.9 624.4,968.8 627.8,965.7 631.1,961.3 634.5,956.4 637.9,952.5 641.5,948.8 645.1,944.5 648.8,940.4 652.4,935.7 656.0,932.3 659.6,930.3 663.6,925.0 667.7,923.1 671.7,920.5 675.7,918.2 679.8,913.5 683.8,910.7 687.8,907.2 691.7,904.3 695.7,901.0 699.7,899.1 703.6,895.4 707.6,892.1 711.6,886.4 715.5,883.0 719.5,881.5 723.5,878.7 727.4,874.1 731.4,871.0 735.4,866.6 739.3,865.0 743.3,863.7 747.3,860.6 751.2,858.0 755.2,855.5 759.2,850.7 763.1,847.5 767.1,844.9 771.1,843.1 775.0,840.8 779.0,838.7 783.0,835.5 787.0,832.7 791.0,830.5 794.9,827.0 798.9,824.7 802.9,820.7 807.2,819.6 811.5,815.0 815.7,813.7 820.0,809.8 824.4,806.5 828.7,803.6 833.1,801.5 837.4,800.2 841.8,798.0 846.1,793.9 850.5,791.4 854.3,790.2 858.1,788.0 862.0,785.0 865.8,782.1 870.0,780.9 874.3,776.9 879.1,775.2 883.8,773.2 888.6,772.1 893.3,768.7 898.1,766.9 902.6,763.5 907.1,760.6 911.6,758.4 915.8,758.5 920.0,755.9 924.8,752.2 929.5,748.9 934.3,747.7 939.0,745.7 943.8,742.5 948.3,739.6 952.9,738.2 957.4,736.5 962.5,731.1 967.6,727.1 972.4,726.3 977.1,724.9 981.9,723.9 986.6,720.9 991.4,720.9 995.3,718.5 999.3,715.6 1003.2,712.5 1007.2,712.5 1011.2,708.6 1015.2,707.9 1020.0,704.6 1024.7,702.9 1029.5,702.7 1034.2,699.8 1039.0,700.0 1043.8,697.0 1048.6,694.5 1053.3,692.9 1058.1,691.7 1062.9,690.8 1067.7,689.4 1072.4,685.0 1077.2,683.6 1081.9,680.9 1086.7,680.9 1091.5,676.5 1096.2,674.1 1101.0,671.9 1105.7,670.7 1110.5,670.0 1115.3,668.6 1120.0,666.7 1124.8,666.0 1129.5,664.4 1134.3,661.3 1139.1,659.5 1143.8,660.1 1148.6,658.2 1153.3,654.7 1158.1,655.1 1162.5,652.8 1166.9,651.4 1171.2,649.9 1175.6,648.0 1180.0,646.1 1185.0,644.4 1190.0,642.1 1195.0,641.4 1200.0,636.5 1204.9,636.9 1209.8,632.8 1214.7,631.3 1219.5,630.6 1224.4,628.7 1229.3,625.6 1234.2,623.1 1239.1,622.8 1243.9,621.1 1248.8,621.2 1253.7,617.7 1258.6,616.7 1263.5,616.4 1268.4,612.1 1273.2,611.4 1278.1,610.6 1283.0,608.7 1287.9,604.8 1292.8,603.4 1297.7,602.2 1302.6,603.2 1307.4,600.0 1312.3,600.0 1317.2,599.1 1322.1,596.1 1327.0,594.4 1331.8,594.9 1336.7,592.5 1341.6,590.0 1346.5,589.8 1351.4,587.4 1356.3,585.9 1361.2,583.8 1366.0,584.6 1370.9,583.7 1375.8,581.6 1380.7,580.8 1385.6,576.7 1390.4,575.7 1395.3,574.7 1400.2,574.5 1405.1,572.9 1410.0,570.3 1414.9,569.0 1419.8,568.5 1424.7,566.7 1429.5,566.0 1434.4,561.9 1439.3,562.4 1444.2,561.1 1449.1,560.1 1454.0,556.8 1458.8,553.2 1463.7,549.2 1468.6,546.3 1473.5,543.5 1478.4,541.8 1483.6,539.7 1488.7,540.0 1493.8,541.4 1499.0,540.6" stroke="#0000ff" stroke-width="8.5" stroke-linejoin="bevel"/>
<polyline points="354.0,1440.1 356.5,1436.3 359.1,1430.9 361.6,1427.2 364.2,1422.8 366.7,1418.5 369.1,1413.1 371.4,1410.8 373.8,1404.3 376.2,1402.0 378.6,1397.4 380.9,1390.4 383.3,1387.2 385.7,1383.7 387.6,1379.6 389.6,1373.7 391.5,1368.8 393.4,1364.1 395.4,1361.7 397.3,1355.2 399.3,1351.8 401.2,1346.1 403.1,1342.7 405.1,1339.4 407.0,1332.7 408.9,1330.1 410.9,1324.8 412.8,1321.4 414.8,1316.4 416.7,1310.6 418.6,1308.1 420.6,1302.4 422.5,1296.7 424.4,1292.2 426.3,1289.1 428.2,1284.5 430.2,1279.6 432.1,1274.7 434.0,1271.3 435.9,1267.3 437.8,1264.8 440.2,1257.7 442.7,1255.2 445.1,1250.8 447.6,1244.1 450.0,1241.7 452.3,1236.3 454.5,1232.1 456.8,1225.6 459.0,1221.1 461.3,1216.4 463.8,1213.3 466.3,1207.4 468.8,1202.0 471.3,1197.4 473.8,1192.2 476.2,1186.8 478.6,1182.2 480.9,1179.5 483.3,1173.2 485.7,1170.2 488.3,1163.5 490.9,1158.8 493.6,1154.8 496.2,1149.1 498.8,1144.8 501.2,1142.5 503.6,1138.3 506.0,1134.2 508.3,1129.7 510.7,1126.5 513.1,1122.6 515.7,1117.6 518.3,1114.1 520.9,1108.2 523.4,1106.2 526.0,1101.4 528.6,1098.3 531.0,1094.0 533.3,1089.1 535.7,1084.4 538.0,1082.9 540.4,1076.7 542.7,1073.7 545.9,1069.5 549.0,1065.5 552.2,1062.8 555.4,1059.6 558.5,1053.7 561.7,1050.9 564.5,1046.0 567.2,1042.7 570.0,1038.3 572.8,1033.7 575.5,1029.7 578.3,1025.9 581.5,1023.9 584.7,1018.7 587.8,1014.0 591.0,1011.9 594.2,1008.2 597.4,1002.7 600.8,997.8 604.1,994.0 607.5,989.8 610.9,986.5 614.2,981.8 617.6,978.3 621.0,974.4 624.4,971.3 627.8,968.2 631.1,963.8 634.5,958.9 637.9,955.0 641.5,951.3 645.1,947.0 648.8,942.9 652.4,938.2 656.0,934.8 659.6,932.8 663.6,927.5 667.7,925.6 671.7,923.0 675.7,920.7 679.8,916.0 683.8,913.2 687.8,909.7 691.7,906.8 695.7,903.5 699.7,901.6 703.6,897.9 707.6,894.6 711.6,888.9 715.5,885.5 719.5,884.0 723.5,881.2 727.4,876.6 731.4,873.5 735.4,869.1 739.3,867.5 743.3,866.2 747.3,863.1 751.2,860.5 755.2,858.0 759.2,853.2 763.1,850.0 767.1,847.4 771.1,845.6 775.0,843.3 779.0,841.2 783.0,838.0 787.0,835.2 791.0,833.0 794.9,829.5 798.9,827.2 802.9,823.2 807.2,822.1 811.5,817.5 815.7,816.2 820.0,812.3 824.4,809.0 828.7,806.1 833.1,804.0 837.4,802.7 841.8,800.5 846.1,796.4 850.5,793.9 854.3,792.7 858.1,790.5 862.0,787.5 865.8,784.6 870.0,783.4 874.3,779.4 879.1,777.7 883.8,775.7 888.6,774.6 893.3,771.2 898.1,769.4 902.6,766.0 907.1,763.1 911.6,760.9 915.8,761.0 920.0,758.4 924.8,754.7 929.5,751.4 934.3,750.2 939.0,748.2 943.8,745.0 948.3,742.1 952.9,740.7 957.4,739.0 962.5,733.6 967.6,729.6 972.4,728.8 977.1,727.4 981.9,726.4 986.6,723.4 991.4,723.4 995.3,721.0 999.3,718.1 1003.2,715.0 1007.2,715.0 1011.2,711.1 1015.2,710.4 1020.0,707.1 1024.7,705.4 1029.5,705.2 1034.2,702.3 1039.0,702.5 1043.8,699.5 1048.6,697.0 1053.3,695.4 1058.1,694.2 1062.9,693.3 1067.7,691.9 1072.4,687.5 1077.2,686.1 1081.9,683.4 1086.7,683.4 1091.5,679.0 1096.2,676.6 1101.0,674.4 1105.7,673.2 1110.5,672.5 1115.3,671.1 1120.0,669.2 1124.8,668.5 1129.5,666.9 1134.3,663.8 1139.1,662.0 1143.8,662.6 1148.6,660.7 1153.3,657.2 1158.1,657.6 1162.5,655.3 1166.9,653.9 1171.2,652.4 1175.6,650.5 1180.0,648.6 1185.0,646.9 1190.0,644.6 1195.0,643.9 1200.0,639.0 1204.9,639.4 1209.8,635.3 1214.7,633.8 1219.5,633.1 1224.4,631.2 1229.3,628.1 1234.2,625.6 1239.1,625.3 1243.9,623.6 1248.8,623.7 1253.7,620.2 1258.6,619.2 1263.5,618.9 1268.4,614.6 1273.2,613.9 1278.1,613.1 1283.0,611.2 1287.9,607.3 1292.8,605.9 1297.7,604.7 1302.6,605.7 1307.4,602.5 1312.3,602.5 1317.2,601.6 1322.1,598.6 1327.0,596.9 1331.8,597.4 1336.7,595.0 1341.6,592.5 1346.5,592.3 1351.4,589.9 1356.3,588.4 1361.2,586.3 1366.0,587.1 1370.9,586.2 1375.8,584.1 1380.7,583.3 1385.6,579.2 1390.4,578.2 1395.3,577.2 1400.2,577.0 1405.1,575.4 1410.0,572.8 1414.9,571.5 1419.8,571.0 1424.7,569.2 1429.5,568.5 1434.4,564.4 1439.3,564.9 1444.2,563.6 1449.1,562.6 1454.0,559.3 1458.8,555.7 1463.7,551.7 1468.6,548.8 1473.5,546.0 1478.4,544.3 1483.6,542.2 1488.7,542.5 1493.8,543.9 1499.0,543.1" stroke="#0000ff" stroke-width="8.5" stroke-linejoin="bevel"/>
<line x1="1499.0" y1="533.9" x2="1499.0" y2="1440.8" stroke="#0000ff" stroke-width="8.5"/>
</g>
<g class="tick" filter="url(#ct)">
<text transform="translate(0 1556.6) scale(1 1.06)" x="327.3" y="0">0</text>
<text transform="translate(0 1556.6) scale(1 1.06)" x="554.9" y="0">5</text>
<g clip-path="url(#k1)"><text transform="translate(0 1556.6) scale(1 1.06)" x="758.1 807.8" y="0">10</text></g>
<g clip-path="url(#k2)"><text transform="translate(0 1556.6) scale(1 1.06)" x="984.5 1035.6" y="0">15</text></g>
<text transform="translate(0 1556.6) scale(1 1.06)" x="1209.3 1262.2" y="0">20</text>
<text transform="translate(0 1556.6) scale(1 1.06)" x="1432.6 1485.9" y="0">25</text>
<text transform="translate(0 1556.6) scale(1 1.06)" x="1660.2 1712.9" y="0">30</text>
<text transform="translate(0 1556.6) scale(1 1.06)" x="1886.9 1939.8" y="0">35</text>
<text transform="translate(0 1556.6) scale(1 1.06)" x="2113.0 2167.1" y="0">40</text>
<text transform="translate(0 131.7) scale(1 1.06)" x="204.2 256.0" y="0">25</text>
<text transform="translate(0 400.6) scale(1 1.06)" x="204.2 256.2" y="0">20</text>
<g clip-path="url(#k3)"><text transform="translate(0 667.8) scale(1 1.06)" x="206.6 256.0" y="0">15</text></g>
<g clip-path="url(#k4)"><text transform="translate(0 931.8) scale(1 1.06)" x="206.6 256.2" y="0">10</text></g>
<text transform="translate(0 1198.9) scale(1 1.06)" x="256.0" y="0">5</text>
<text transform="translate(0 1463.8) scale(1 1.06)" x="256.2" y="0">0</text>
</g>
<defs><clipPath id="k1" clipPathUnits="userSpaceOnUse"><path clip-rule="evenodd" d="M0 0H2265V1748H0ZM759.5 1546.9h18.7v13.4h-18.7ZM790.1 1546.9h17.6v13.4h-17.6Z"/></clipPath><clipPath id="k2" clipPathUnits="userSpaceOnUse"><path clip-rule="evenodd" d="M0 0H2265V1748H0ZM985.9 1546.9h18.7v13.4h-18.7ZM1016.5 1546.9h17.6v13.4h-17.6Z"/></clipPath><clipPath id="k3" clipPathUnits="userSpaceOnUse"><path clip-rule="evenodd" d="M0 0H2265V1748H0ZM208.0 658.1h18.7v13.4h-18.7ZM238.6 658.1h17.6v13.4h-17.6Z"/></clipPath><clipPath id="k4" clipPathUnits="userSpaceOnUse"><path clip-rule="evenodd" d="M0 0H2265V1748H0ZM208.0 922.1h18.7v13.4h-18.7ZM238.6 922.1h17.6v13.4h-17.6Z"/></clipPath></defs>
<g filter="url(#ct)">
<text class="title" transform="translate(0 1682.5) scale(1 1.03)" x="1052.4 1119.3 1149.3 1187.7 1244.1 1272.9 1340.0 1352.7 1387.6 1472.3" y="0">Strain (%)</text>
<text class="title" transform="translate(147.8 1085.0) rotate(-90) scale(1 1.03)" x="0.0 64.7 97.0 134.7 188.7 242.6 296.6 322.3 358.7 439.6 501.1 562.5" y="0">Stress (MPa)</text>
</g>
<g class="ax">
<line x1="386" y1="176" x2="544" y2="176" stroke="#000" stroke-width="7.4" style="stroke:#000"/>
<line x1="386" y1="288" x2="544" y2="288" stroke-width="7.4" style="stroke:#ff0000"/>
<line x1="386" y1="396" x2="544" y2="396" stroke-width="7.4" style="stroke:#0000ff"/>
</g>
<g class="leg" filter="url(#ct)">
<text transform="translate(0 201.3) scale(1 1.04)" font-size="86" x="566.0 615.9 671.8 732.7" y="0">qPPO</text>
<text transform="translate(0 309.9) scale(1 1.04)" font-size="86" x="566.0 615.9 671.8 732.7 798.8 825.9 887.4 914.3 977.7 1028.3 1049.0" y="0">qPPO/D-Cel7</text>
<text transform="translate(0 417.8) scale(1 1.04)" font-size="86" x="566.0 615.9 671.8 732.7 798.8 825.9 887.2 958.0 982.4 1045.3 1095.0 1120.1" y="0">qPPO/DG-Cel7</text>
</g>
</svg>
</body>
</html>
